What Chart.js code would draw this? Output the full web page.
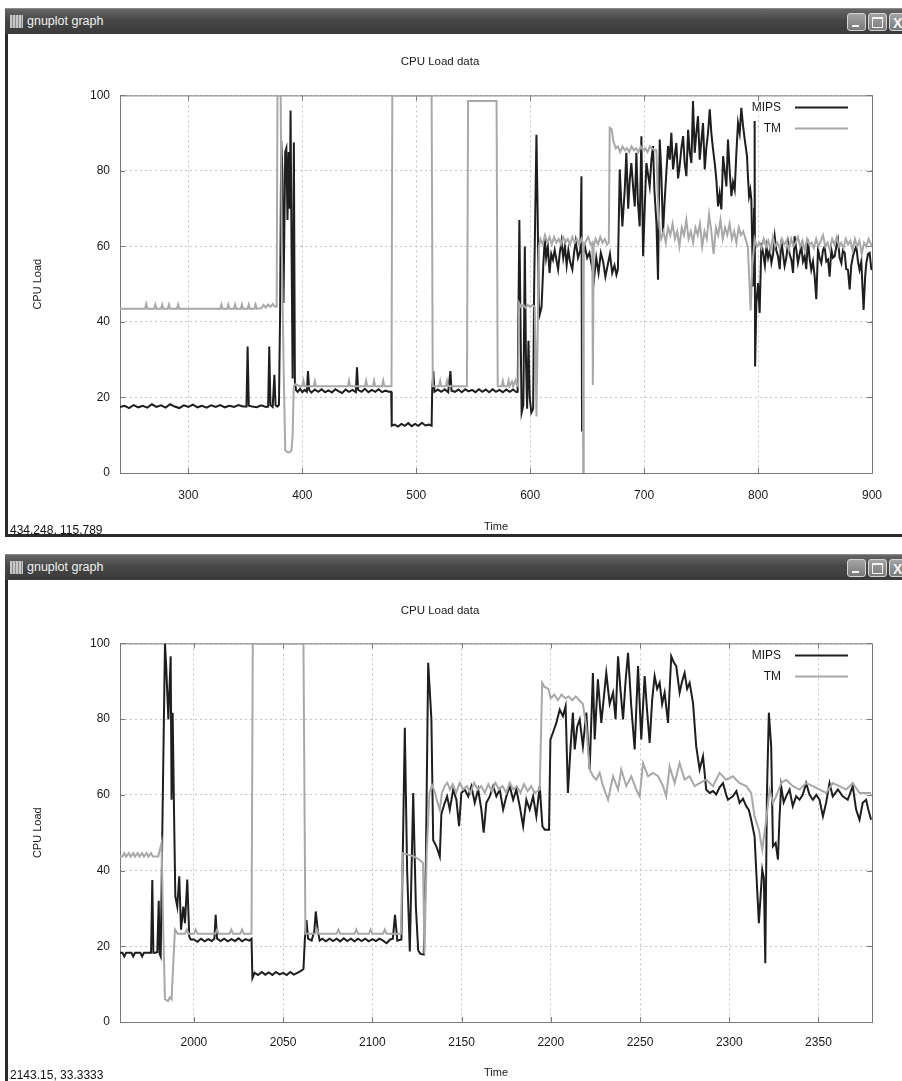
<!DOCTYPE html>
<html>
<head>
<meta charset="utf-8">
<title>gnuplot graph</title>
<script src="https://cdn.jsdelivr.net/npm/chart.js@4.4.0/dist/chart.umd.min.js"></script>
<style>
    body { margin: 0; width: 902px; height: 1081px; overflow: hidden; position: relative; background: #fff; font-family: "Liberation Sans", Arial, sans-serif; }
    .bar { position: absolute; left: 5px; width: 897px; height: 25px; background: linear-gradient(#666, #474747 45%, #3a3a3a); border-top: 1px solid #8c8c8c; }
    .bar .icon { position: absolute; left: 5px; top: 6px; width: 13px; height: 13px; background: repeating-linear-gradient(90deg, #ddd 0 2px, #999 2px 3px), #ccc; opacity: .85; }
    .bar .name { position: absolute; left: 22px; top: 5px; font-size: 12.5px; color: #f2f2f2; }
    .btn { position: absolute; top: 4px; width: 19px; height: 18px; border: 1px solid #d4d4d4; border-radius: 3px; background: linear-gradient(#a4a4a4, #7a7a7a); box-sizing: border-box; }
    .btn i { position: absolute; border: 0 solid #f4f4f4; }
    .edge { position: absolute; background: #2b2b2b; }
    canvas { position: absolute; left: 8px; }
    .status { position: absolute; left: 10px; font-size: 12px; color: #111; line-height: 14px; z-index: 2; }
</style>
</head>
<body>
<div class="bar" style="top:8px">
    <div class="icon"></div><div class="name">gnuplot graph</div>
    <div class="btn" style="left:842px"><i style="left:4px;top:11px;width:7px;border-top-width:2px"></i></div>
    <div class="btn" style="left:863px"><i style="left:3px;top:3px;width:9px;height:8px;border-width:2px 1px 1px 1px"></i></div>
    <div class="btn" style="left:884px"><i style="left:3px;top:1px;font-style:normal;color:#f4f4f4;font-size:14px;font-weight:bold">X</i></div>
</div>
<div class="edge" style="left:5px;top:34px;width:3px;height:503px"></div>
<div class="edge" style="left:5px;top:534px;width:897px;height:3px"></div>
<canvas id="top-chart" width="894" height="500" style="top:34px"></canvas>
<div class="status" style="top:523px">434.248, 115.789</div>

<div class="bar" style="top:554px">
    <div class="icon"></div><div class="name">gnuplot graph</div>
    <div class="btn" style="left:842px"><i style="left:4px;top:11px;width:7px;border-top-width:2px"></i></div>
    <div class="btn" style="left:863px"><i style="left:3px;top:3px;width:9px;height:8px;border-width:2px 1px 1px 1px"></i></div>
    <div class="btn" style="left:884px"><i style="left:3px;top:1px;font-style:normal;color:#f4f4f4;font-size:14px;font-weight:bold">X</i></div>
</div>
<div class="edge" style="left:5px;top:580px;width:3px;height:501px"></div>
<canvas id="bottom-chart" width="894" height="501" style="top:580px"></canvas>
<div class="status" style="top:1068px">2143.15, 33.3333</div>

<script>
// [time, load] samples
const topMips = [[240,17.5],[244,17.8],[248,17.2],[252,18],[256,17.4],[260,17.8],[264,17.3],[268,18.2],[272,17.5],[276,17.9],[280,17.3],[284,18.2],[288,17.6],[292,17.2],[296,17.9],[300,17.5],[304,18.1],[308,17.4],[312,17.8],[316,17.3],[320,17.9],[324,17.5],[328,18],[332,17.4],[336,17.8],[340,17.5],[344,18],[348,17.6],[351,17.6],[352,33.5],[353,17.8],[356,17.6],[360,17.4],[364,17.9],[368,17.5],[370,17.6],[371,33.5],[372,18],[374,17.5],[375.5,26],[376.5,18],[378,17.6],[379.5,18],[380.5,42],[381.5,88],[382.5,80],[383.5,45],[385,85],[386,86],[387,67],[388,85],[389,70],[389.7,96],[390.5,62],[391.5,25],[392.6,87.5],[393.5,24],[394.5,22],[396,21.5],[398,22.3],[400,21.4],[402,22],[404,21.5],[405,27],[406,22],[408,21.3],[411,22.1],[414,21.5],[417,22.2],[420,21.4],[423,21.9],[426,21.3],[429,22.2],[432,21.6],[435,21.2],[438,22.1],[441,21.5],[444,22],[447,21.4],[448,28],[449,22],[452,21.5],[455,22.3],[458,21.4],[461,22],[464,21.5],[467,22.2],[470,21.4],[473,21.8],[476,21.5],[478,21.5],[478.5,12.5],[481,12.8],[484,12.3],[487,13],[490,12.5],[493,13.2],[496,12.4],[499,13],[502,12.5],[505,13.3],[508,12.6],[511,12.8],[513.5,12.5],[514,22],[515,27],[516,21.5],[519,22.1],[522,21.5],[525,22.2],[528,21.4],[530,27],[531,21.8],[534,21.5],[537,22.1],[540,21.4],[543,22.2],[546,21.6],[549,22],[552,21.4],[555,22.2],[558,21.5],[561,22.1],[564,21.4],[567,22.2],[570,21.5],[573,22],[576,21.4],[579,22.1],[582,21.5],[585,22.1],[588,21.4],[589,21.5],[590.5,67],[591.5,40],[592.5,16],[594,18],[595.3,60],[596.3,30],[597.3,17],[598.5,35],[599.6,20],[601,16],[602.6,17],[603.5,50],[605.5,89.6],[606.5,70],[607.5,45],[608.4,42],[610,44],[611.5,55],[612.8,62],[614,57],[615.5,60],[617,53],[618.5,58],[620,56.5],[621.5,59],[623,56.5],[624.5,53.9],[626,58.3],[627.5,61.4],[629,57],[630.5,60],[632,55],[633.5,59],[635,56],[637,53.9],[638.5,58.3],[640,61.4],[642,57],[644,59],[645,78.6],[645.5,11],[646.5,58],[648,60],[650,57],[652,58.3],[654,55],[656,51.2],[658,57],[660,53],[662,58.3],[664,56],[666,52],[668,55],[670,58],[672,53],[674,55],[675.7,52.5],[677,54],[678.6,80.4],[680.9,65.3],[683,75],[684.4,84.8],[686,70],[687.4,77.7],[688.8,82.1],[690.5,75],[691.8,70.6],[693.2,84.8],[694.5,72],[696.1,65.3],[697.6,89.2],[699.1,57.4],[700.5,70],[702,82.1],[704.9,76],[706.4,83],[707.8,86.6],[709,75],[710.8,66.2],[712.2,51.2],[713.7,88.3],[715,80],[716.6,63.7],[718,72],[719.5,79.5],[721,86.6],[722.5,83],[723.9,90.1],[725.4,80.4],[726.8,84],[728.3,87.4],[729.8,78],[731.2,81.3],[732.7,86],[734.2,89.2],[735.6,82],[737.1,78.6],[738.6,90.9],[740,85],[741.5,82.1],[742.9,98.5],[744.4,84.8],[745.8,90],[747.3,94.5],[748.8,83],[750.3,88],[751.7,92.7],[753.2,80.4],[754.6,86],[756.1,90.1],[757.6,96.3],[759,90],[760.5,85.7],[762,82],[763.4,77.7],[764.9,70.6],[766.3,74],[767.8,69.8],[769.3,83.9],[770.7,80],[772.2,75.9],[773.6,88.3],[775.1,80],[776.6,73.3],[778,77],[779.5,75],[781,85],[782.4,92.7],[783.9,90],[785.3,96.7],[786.8,92],[788.3,88.3],[790.3,83.9],[791.2,78],[792.1,73.3],[793.2,75],[794.1,72.4],[795.6,49.4],[796.5,70],[797,93.2],[797.4,28.2],[798.5,45],[800,50.3],[801.4,42.4],[802.9,61],[804.5,58],[806,55],[807.3,60],[808.8,57],[810.2,59],[811.7,55.6],[813.2,58],[814.6,62.7],[816,59],[817.5,57.4],[819,54],[820.4,61.8],[821.9,58],[823.3,54.8],[824.8,57],[826.3,61],[827.7,58],[829.2,56.5],[830.7,53],[832.1,62.7],[833.6,59],[835,55.6],[836.5,58],[838,60],[839.4,56],[840.9,57.4],[842.3,54],[843.8,61.8],[845.2,57],[846.7,53.8],[848.2,56],[849.7,52],[851.1,46],[852.6,59.2],[854,57],[855.5,55.6],[857,59],[858.4,60],[859.9,56],[861.4,56.5],[862.8,52],[864.3,59.2],[865.7,57],[867.2,57.4],[868.7,60],[870.1,61.8],[871.6,57],[873.1,55.6],[874.5,59],[876,58.3],[877.4,54],[878.9,53.8],[880.4,48.6],[881.8,55],[883.3,57.4],[884.8,59],[886.2,60],[887.7,56],[889.1,53.8],[890.6,56],[892.6,43.2],[894,52],[895,55.6],[896.5,58],[897.9,58.3],[899.4,54],[900,53.8]];

const topTm = [[240,43.5],[262,43.5],[263,44.8],[264,43.5],[270,43.5],[271,44.6],[272,43.5],[276,43.5],[277,44.6],[278,43.5],[282,43.5],[283,44.6],[284,43.5],[290,43.5],[291,44.6],[292,43.5],[328,43.5],[329,44.6],[330,43.5],[334,43.5],[335,44.6],[336,43.5],[340,43.5],[341,44.6],[342,43.5],[346,43.5],[347,44.6],[348,43.5],[352,43.5],[353,44.6],[354,43.5],[358,43.5],[359,44.6],[360,43.5],[364,43.6],[366,44.5],[368,43.8],[370,44.6],[372,44],[374,44.8],[376,44],[377.5,44],[378.2,100],[381,100],[382,60],[383.5,30],[385,6],[387,5.5],[389,5.5],[390.5,6],[391.5,10],[392.5,23],[394,23.5],[398,23],[400,23],[401,24.4],[402,23],[410,23],[411,24.3],[412,23],[440,23],[441,24.5],[442,23],[455,23],[456,24.5],[457,23],[462,23],[463,24.5],[464,23],[470,23],[471,24.5],[472,23],[478.3,23],[479,100],[513.5,100],[514.5,23],[520,23],[521,24.4],[522,23],[526,23],[527,24.4],[528,23],[544.5,23],[545.5,98.5],[570.5,98.5],[571.5,23],[575,23],[576,24.4],[577,23],[580,23],[581,24.5],[582,23],[584,24.2],[585,23],[587,24.5],[588,23.5],[589.5,23],[590.3,45],[592,44],[594,44.5],[596,43.8],[598,44.5],[600,44],[602,44.5],[604,44],[605.5,15],[606.5,35],[607.7,60],[609,62],[611,60.5],[613,63],[615,61],[617,62.5],[619,60.5],[621,62.5],[623,61],[625,62],[627,60.5],[629,62.5],[631,61],[633,62],[635,60.5],[637,62.5],[639,61],[641,62],[643,60.5],[645,62],[646.2,61],[646.5,0],[647,60],[649,61.5],[651,62.5],[653,60.5],[654.5,61],[655,23.3],[655.7,60],[657.5,62],[659.5,60.5],[661.5,62.5],[663.5,61],[665.5,62],[667.5,60.5],[669,61],[669.8,91.4],[671.5,91],[673,88],[675,86],[677,86.5],[679,85],[681,86.5],[683,85.5],[685,86],[687,85],[689,86.5],[691,85.5],[693,86],[695,85],[697,86.5],[699,85.5],[701,86],[703,85],[705,86.5],[707,86],[709,85.5],[710.8,85.5],[712,73],[713.5,65],[715,62],[717,64],[719,61],[721,65],[723,63],[725,66],[727,62],[729,64],[731,60],[733,65],[735,63],[737,67],[739,62],[741,64],[743,61],[745,65],[747,63],[749,66],[751,60],[753,64],[755,62],[757,68.5],[759,64],[761,58],[763,65],[765,63],[767,67],[769,62],[771,65],[773,63],[775,66],[777,62],[779,64],[781,61],[783,65],[785,63],[787,64],[789,62],[791,60],[792.5,50],[793.5,43],[795,55],[797,62],[799,60],[801,61],[803,59.5],[805,62],[807,60],[809,61.5],[811,59],[813,62.5],[815,60],[817,61],[819,59.5],[821,62],[823,60.5],[825,61.5],[827,59],[829,62],[831,60],[833,61],[835,62.5],[837,60],[839,61.5],[841,59],[843,62],[845,60.5],[847,61],[849,59.5],[851,62],[853,60],[855,61.5],[857,63],[859,60],[861,61],[863,59],[865,62],[867,60.5],[869,62.5],[871,60],[873,61],[875,59.5],[877,62],[879,60.5],[881,61.5],[883,59],[885,62],[887,60],[889,61.5],[891,58],[893,61],[895,60],[897,62],[900,60]];

const bottomMips = [[1958.6,18.3],[1960,18.3],[1961,17.3],[1962,18.3],[1965,18.3],[1966,17.3],[1967,18.3],[1970,18.3],[1971,17.3],[1972,18.3],[1975,18.3],[1976,18.3],[1976.7,37.5],[1977.3,18.3],[1978.5,18.3],[1979.5,18.5],[1980.3,32],[1980.8,18],[1981.4,17.3],[1982.3,50],[1983.8,100],[1984.4,94.9],[1985.7,79.9],[1987,96.6],[1987.5,58.7],[1988.1,81.7],[1988.8,57.9],[1989.6,33.2],[1990.7,30.5],[1991.8,38.5],[1992.8,24.4],[1994.1,30.5],[1995,26.1],[1996.3,37.6],[1997.4,22.6],[1998.2,21.8],[2000,21.8],[2002,21.2],[2004,22],[2006,21.3],[2008,21.9],[2010,21.4],[2011.5,22],[2012.2,28.3],[2013,22],[2015,21.4],[2017,22],[2019,21.3],[2021,21.9],[2023,21.4],[2025,22.1],[2027,21.3],[2029,21.9],[2031,21.5],[2032.3,22],[2032.8,11.6],[2034,13],[2036,12.4],[2038,13.2],[2040,12.5],[2042,13.1],[2044,12.4],[2046,13.2],[2048,12.6],[2050,13],[2052,12.4],[2054,13.2],[2056,12.5],[2058,13],[2060,13.5],[2061.4,14],[2062.2,22],[2063.1,26.9],[2064,22],[2066,21.5],[2067.5,24],[2068.3,29.2],[2069.5,24],[2070.5,21.5],[2072,22],[2074,21.3],[2076,22],[2078,21.4],[2080,22],[2082,21.3],[2084,22.1],[2086,21.4],[2088,22],[2090,21.3],[2092,22],[2094,21.4],[2096,22],[2098,21.3],[2100,21.9],[2102,21.4],[2104,22],[2106,21.5],[2108,20.8],[2110,21.8],[2111.5,22],[2112.7,28.3],[2114,21.5],[2116.3,21.8],[2118.2,77.7],[2119.5,40],[2121,18.6],[2122.9,60.5],[2124.4,30.5],[2125.7,18.9],[2127,18],[2128.8,17.8],[2130,42],[2131.3,94.9],[2133.1,80],[2134.1,48],[2135.9,46.4],[2137.8,43.7],[2138.7,55],[2140.6,57.9],[2141.9,59.6],[2143.4,56.1],[2145.3,61.4],[2147.1,58.7],[2148.6,51.7],[2149.9,60.5],[2151.8,61.4],[2153.7,59.6],[2155.5,62.3],[2157.4,57.9],[2159.3,61.4],[2161.1,56.1],[2162.4,50],[2163.9,57.9],[2165.8,59.6],[2167.7,62.3],[2169.5,59.6],[2171.4,61.4],[2173.3,56.1],[2175.1,59.6],[2177,62.3],[2178.9,58.7],[2180.7,61.4],[2182.6,57],[2184.5,51.7],[2186.3,58.7],[2188.2,56.1],[2190.1,59.6],[2191.9,54.3],[2193.8,62.3],[2195.3,51.7],[2196.6,50.8],[2199,50.8],[2199.8,74.6],[2201.2,76.4],[2203.1,79],[2205,82.5],[2206.8,80.8],[2208.3,83.4],[2209.6,60.5],[2211,72],[2212.4,81.7],[2213.4,72],[2214.8,78],[2216.2,79.9],[2218,72.8],[2219.9,81.7],[2221.8,66.7],[2223.6,92.2],[2224.6,74.6],[2226.4,90.5],[2228.3,79],[2231.1,92.2],[2233,84],[2234.9,87],[2236.3,80],[2237.7,96.6],[2239,88],[2240.5,79.9],[2241.9,90],[2243.3,97.5],[2245.1,83.4],[2247,72],[2248.9,94],[2250.7,74.6],[2252.6,91.4],[2254,82],[2255.4,73.7],[2256.8,85],[2258.2,91.4],[2259.6,88],[2261,89.6],[2262.4,84],[2263.8,87],[2265.7,79],[2267.5,96.6],[2268.9,95],[2270.3,94],[2272.2,87],[2273.6,90],[2275,92.2],[2276.4,88],[2277.8,89.6],[2279.7,84.3],[2281.5,72.8],[2283.4,66.7],[2285.3,70.2],[2287.1,61.4],[2289,60.5],[2290.9,61],[2292.7,60.1],[2294.6,62],[2296.5,63.1],[2298.3,60],[2299.3,58.7],[2302,59.6],[2304,61],[2305.8,57.9],[2307.7,59],[2309.5,57],[2311,56],[2312.3,53.4],[2314.2,49],[2315.1,40.2],[2316.6,26.1],[2318.5,40.2],[2319.4,38],[2320.2,15.5],[2321.1,59.6],[2322.2,81.7],[2323.5,72.8],[2324.5,46.4],[2326,47.3],[2327.3,42.9],[2328.2,54.3],[2329.1,62.3],[2330.5,58],[2331.9,59.6],[2333.8,61.4],[2335.6,57],[2337.5,59.6],[2339.4,58.7],[2341.2,60],[2343.1,63.1],[2345,60],[2346.9,58.7],[2348.8,60],[2350.6,58.7],[2352.5,54.3],[2354.3,57.9],[2356.2,63.1],[2358,59.6],[2360.9,61.4],[2363.6,59.6],[2366.4,58.7],[2369.2,62.3],[2371.1,56.1],[2373,53.4],[2374.8,57.9],[2376.7,58.7],[2378,56],[2379.5,53.4]];

const bottomTm = [[1958.6,43.7],[1960,43.7],[1961,44.6],[1962,43.7],[1963.5,44.6],[1964.5,43.7],[1966,44.6],[1967,43.7],[1968.5,44.6],[1969.5,43.7],[1971,44.6],[1972,43.7],[1973.5,44.6],[1974.5,43.7],[1976,44.6],[1977,43.7],[1980,43.7],[1981.9,47.3],[1982.8,25],[1983.8,6],[1985.5,5.5],[1986.5,6.5],[1987.5,6],[1988.4,15],[1989.4,24.4],[1991,23.3],[1995,23.3],[1996,24.4],[1997,23.3],[2000,23.3],[2001,24.4],[2002,23.3],[2012,23.3],[2013,24.4],[2014,23.3],[2020,23.3],[2021,24.4],[2022,23.3],[2026,23.3],[2027,24.4],[2028,23.3],[2032.3,23.3],[2033,100],[2061.4,100],[2062.5,23.3],[2068,23.3],[2069,24.4],[2070,23.3],[2080,23.3],[2081,24.4],[2082,23.3],[2090,23.3],[2091,24.4],[2092,23.3],[2098,23.3],[2099,24.4],[2100,23.3],[2106,23.3],[2107,24.4],[2108,23.3],[2116,23.3],[2117,44.6],[2120,44.2],[2123,43.8],[2126,43],[2128.4,42],[2129.2,18],[2130.5,45],[2132,60.5],[2133.5,62.5],[2135,60.8],[2136.5,58],[2137.8,56],[2139,60.5],[2140.5,62.3],[2142,63.2],[2143.5,61.4],[2145,62.8],[2147,60.5],[2149,63.2],[2151,61.4],[2153,62.3],[2155,60.5],[2157,63.2],[2159,61.4],[2161,62.3],[2163,60.5],[2165,62.8],[2167,61],[2169,63.2],[2171,61.4],[2173,62.3],[2175,60.5],[2177,63.2],[2179,61.4],[2181,62.3],[2183,60.5],[2185,62.8],[2187,61],[2189,62.3],[2191,60.5],[2193.8,61.4],[2195.2,89.6],[2196.5,88.5],[2198.6,88],[2200,85.5],[2202,86.5],[2204,85],[2206,86.5],[2208,85.5],[2210,86],[2212,85],[2214,86],[2216,85],[2218,84],[2219.9,78],[2221.8,66.7],[2223.6,65],[2225.5,64],[2227.4,65.8],[2229.3,62.3],[2232.1,58.7],[2234.9,64.9],[2237.7,61.4],[2239.5,66.7],[2242.3,62.3],[2245.1,64.9],[2247.9,61.4],[2249.8,59.6],[2251.7,68.4],[2254.5,64.9],[2257.3,65.8],[2260.1,64.9],[2262.9,62.3],[2264.7,59.6],[2266.6,67.5],[2269.4,63.1],[2272.2,68.4],[2275,64],[2277.8,64.9],[2280.6,62.3],[2283.4,63.1],[2287.1,64],[2290.9,62.3],[2294.6,65.8],[2298.3,64],[2302,64.9],[2305.8,63.1],[2309.5,62.3],[2312.3,60.5],[2314.2,54.3],[2316.6,50.8],[2318.5,45.5],[2320.7,53.4],[2322.6,61.4],[2324.5,57.9],[2326.3,59.6],[2329.1,63.1],[2331.9,64],[2335.6,62.3],[2339.4,61.4],[2343.1,63.1],[2346.9,62.3],[2350.6,61.4],[2354.3,60.5],[2358,63.1],[2361.8,62.3],[2365.5,61.4],[2369.2,63.1],[2373,60.5],[2376.7,60.5],[2379.5,60.5]];

const seriesNames = ['MIPS', 'TM'];
const topTimeRange = [240, 900];
const bottomTimeRange = [1958.6, 2380];

const fontFamily = '"Liberation Sans", Arial, sans-serif';

// gnuplot style: full border, inward tick marks on all four sides, legend inside top-right
const gnuplotFrame = {
    id: 'gnuplotFrame',
    beforeDatasetsDraw(chart) {
        const { ctx, chartArea: a, scales } = chart;
        ctx.save();
        ctx.strokeStyle = '#7a7a7a';
        ctx.lineWidth = 1;
        ctx.strokeRect(a.left + 0.5, a.top + 0.5, a.right - a.left, a.bottom - a.top);
        ctx.beginPath();
        scales.x.ticks.forEach(t => {
            const px = Math.round(scales.x.getPixelForValue(t.value)) + 0.5;
            ctx.moveTo(px, a.bottom); ctx.lineTo(px, a.bottom - 5);
            ctx.moveTo(px, a.top); ctx.lineTo(px, a.top + 5);
        });
        scales.y.ticks.forEach(t => {
            const py = Math.round(scales.y.getPixelForValue(t.value)) + 0.5;
            ctx.moveTo(a.left, py); ctx.lineTo(a.left + 5, py);
            ctx.moveTo(a.right, py); ctx.lineTo(a.right - 5, py);
        });
        ctx.stroke();
        ctx.restore();
    },
    afterDatasetsDraw(chart) {
        const { ctx, chartArea: a } = chart;
        ctx.save();
        ctx.font = '12px ' + fontFamily;
        ctx.textAlign = 'right';
        ctx.textBaseline = 'middle';
        chart.data.datasets.forEach((ds, i) => {
            const y = a.top + 12 + i * 21;
            ctx.fillStyle = '#1a1a1a';
            ctx.fillText(ds.label, a.right - 91, y);
            ctx.strokeStyle = ds.borderColor;
            ctx.lineWidth = 2;
            ctx.beginPath();
            ctx.moveTo(a.right - 77, y);
            ctx.lineTo(a.right - 24, y);
            ctx.stroke();
        });
        ctx.restore();
    }
};

const buildChart = (id, mips, tm, range, step, fit) => {
    const ctx = document.getElementById(id).getContext('2d');
    const toPoints = list => list.map(p => ({ x: p[0], y: p[1] }));
    return new Chart(ctx, {
        type: 'line',
        data: {
            datasets: [
                { label: seriesNames[0], data: toPoints(mips), borderColor: '#1e1e1e', borderWidth: 2, order: 2 },
                { label: seriesNames[1], data: toPoints(tm), borderColor: '#a8a8a8', borderWidth: 2, order: 1 }
            ]
        },
        options: {
            responsive: false,
            animation: false,
            events: [],
            elements: { point: { radius: 0 }, line: { tension: 0, fill: false } },
            layout: { padding: { left: 0, right: 30, top: 0, bottom: 0 } },
            plugins: {
                legend: { display: false },
                tooltip: { enabled: false },
                title: {
                    display: true,
                    text: 'CPU Load data',
                    color: '#1a1a1a',
                    font: { family: fontFamily, size: 11.5, weight: 'normal', lineHeight: 1.2 },
                    padding: { top: fit.titleTop, bottom: fit.titleBottom }
                }
            },
            scales: {
                x: {
                    type: 'linear',
                    min: range[0],
                    max: range[1],
                    afterFit: scale => { scale.height = fit.xHeight; },
                    ticks: {
                        stepSize: step, includeBounds: false, autoSkip: false, maxRotation: 0, padding: fit.xPad,
                        color: '#1a1a1a', font: { family: fontFamily, size: 12 },
                        callback: value => String(value)
                    },
                    grid: { color: '#c4c4c4', drawTicks: false },
                    border: { display: false, dash: [2, 3] },
                    title: { display: true, text: 'Time', color: '#1a1a1a', font: { family: fontFamily, size: 11 }, padding: { top: 0, bottom: fit.timePad } }
                },
                y: {
                    min: 0,
                    max: 100,
                    afterFit: scale => { scale.width = 112; },
                    ticks: { stepSize: 20, padding: 10, color: '#1a1a1a', font: { family: fontFamily, size: 12 }, callback: value => String(value) },
                    grid: { color: '#c4c4c4', drawTicks: false },
                    border: { display: false, dash: [2, 3] },
                    title: { display: true, text: 'CPU Load', color: '#1a1a1a', font: { family: fontFamily, size: 11 }, padding: { top: 23, bottom: 0 } }
                }
            }
        },
        plugins: [gnuplotFrame]
    });
};

document.addEventListener('DOMContentLoaded', () => {
    buildChart('top-chart', topMips, topTm, topTimeRange, 100,
        { titleTop: 21, titleBottom: 26.6, xHeight: 61, xPad: 15, timePad: 0.4 });
    buildChart('bottom-chart', bottomMips, bottomTm, bottomTimeRange, 50,
        { titleTop: 24, titleBottom: 25.6, xHeight: 59, xPad: 13, timePad: 1.4 });
});
</script>
</body>
</html>
